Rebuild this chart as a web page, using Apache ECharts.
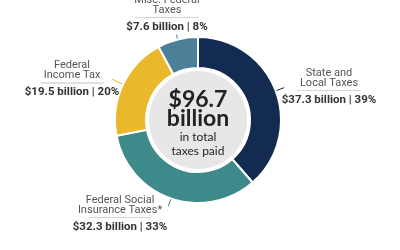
<!DOCTYPE html>
<html><head><meta charset="utf-8">
<script src="https://cdn.jsdelivr.net/npm/echarts@6/dist/echarts.min.js"></script>
<style>html,body{margin:0;padding:0;background:#fff}#c{width:400px;height:250px}</style>
</head><body><div id="c"></div>
<script>
const categories = ['State and\nLocal Taxes', 'Federal Social\nInsurance Taxes*', 'Federal\nIncome Tax', 'Misc. Federal\nTaxes'];
const values = [37.3, 32.3, 19.5, 7.6];
const percents = [39, 33, 20, 8];
const colors = ['#142b51', '#3e8a8b', '#e9b92b', '#4b8098'];
const labelSpots = [[329, 68], [120, 195], [72, 60.5], [167, -5]];
const leaderLengths = [9, 8, 12, 5];

const total = values.reduce((a, b) => a + b, 0);
const CX = 198, CY = 120;
const chart = echarts.init(document.getElementById('c'), null, {renderer: 'canvas'});
chart.setOption({
  animation: false,
  series: [{
    type: 'pie',
    center: [CX, CY],
    radius: [52, 83],
    startAngle: 90,
    clockwise: true,
    silent: true,
    itemStyle: {borderColor: '#fff', borderWidth: 2},
    data: categories.map((c, i) => ({name: c, value: values[i], itemStyle: {color: colors[i]}})),
    label: {
      show: true,
      position: 'outside',
      overflow: 'none',
      formatter: p => p.name.split('\n').map(s => '{n|' + s + '}').join('\n') +
        '\n{hr|}\n{v|$' + values[p.dataIndex].toFixed(1) + ' billion | ' + percents[p.dataIndex] + '%}',
      rich: {
        n: {fontFamily: 'Roboto', fontSize: 11, lineHeight: 10, color: '#555', align: 'center'},
        hr: {borderColor: '#d6d6d6', width: 63, borderWidth: 1, height: 0, lineHeight: 5, align: 'center'},
        v: {fontFamily: 'Roboto', fontSize: 11.5, fontWeight: 'bold', lineHeight: 14, color: '#333', align: 'center'}
      }
    },
    labelLine: {show: true, length: 6, length2: 0, lineStyle: {width: 1}},
    labelLayout: p => {
      const i = p.dataIndex;
      const p0 = p.labelLinePoints[0];
      const dx = p0[0] - CX, dy = p0[1] - CY;
      const d = Math.sqrt(dx * dx + dy * dy) || 1;
      const L = leaderLengths[i];
      return {
        x: labelSpots[i][0], y: labelSpots[i][1], align: 'center', verticalAlign: 'top',
        labelLinePoints: [[p0[0], p0[1]], [p0[0] + dx / d * L, p0[1] + dy / d * L]]
      };
    }
  }, {
    type: 'pie',
    center: [CX, CY],
    radius: [0, 49],
    silent: true,
    data: [{value: total, name: 'total', itemStyle: {color: '#e7e7e7'}}],
    label: {
      show: true,
      position: 'center',
      offset: [0, 3],
      formatter: () => '{a|$' + total.toFixed(1) + '}\n{a|billion}\n{b1|in total}\n{b|taxes paid}',
      rich: {
        a: {fontFamily: 'Lato', fontWeight: 'bold', fontSize: 23, lineHeight: 19.5, color: '#222'},
        b1: {fontFamily: 'Lato', fontSize: 12, lineHeight: 17, color: '#222'},
        b: {fontFamily: 'Lato', fontSize: 12, lineHeight: 10.5, color: '#222'}
      }
    },
    labelLine: {show: false}
  }]
});
</script></body></html>
